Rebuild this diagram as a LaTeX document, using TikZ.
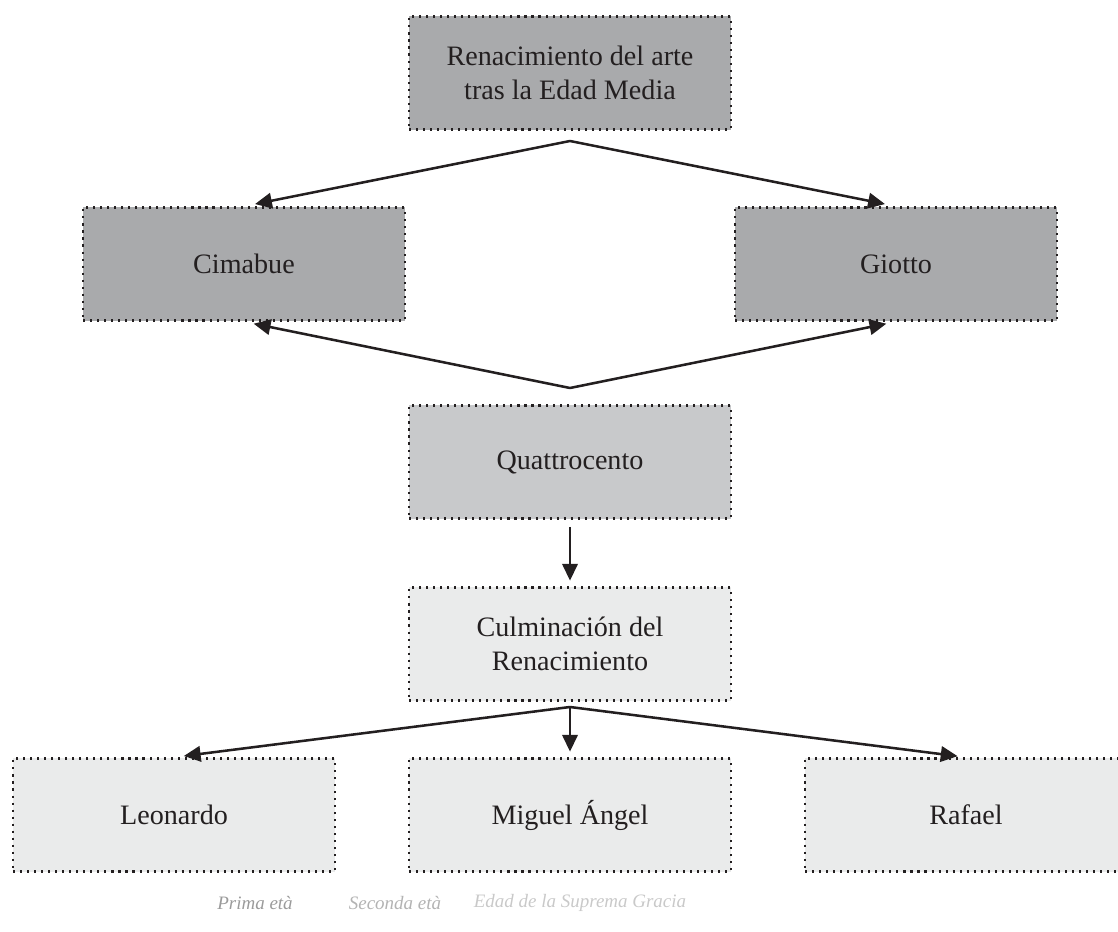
\documentclass[tikz,border=0pt]{standalone}
\usepackage{fontspec}
\setmainfont{Liberation Serif}
\usetikzlibrary{arrows.meta}
\definecolor{ink}{HTML}{231F20}
\definecolor{dark}{HTML}{A9AAAC}
\definecolor{mid}{HTML}{C8C9CB}
\definecolor{light}{HTML}{EAEBEB}
\definecolor{lgone}{HTML}{9B9B9B}
\definecolor{lgtwo}{HTML}{B3B3B3}
\definecolor{lgthree}{HTML}{C9C9C9}
\begin{document}
\begin{tikzpicture}[x=0.025cm,y=-0.025cm,
    box/.style={draw=ink,line width=1.6pt,dash pattern=on 1.5pt off 3.5pt,
      minimum width=8.05cm,minimum height=2.83cm,inner sep=0pt,align=center,
      text=ink,font=\fontsize{20}{24.5}\selectfont},
    legend/.style={font=\fontsize{13.5}{16}\selectfont\itshape},
    link/.style={->,draw=ink,line width=1.8pt},
    >={Triangle[length=12pt,width=11pt]}]
    \useasboundingbox (0,0) rectangle (1118,932);
    \clip (0,0) rectangle (1118,932);
    % boxes
    \node[box,fill=dark] (R) at (570,73) {Renacimiento del arte\\tras la Edad Media};
    \node[box,fill=dark] (C) at (244,264) {Cimabue};
    \node[box,fill=dark] (G) at (896,264) {Giotto};
    \node[box,fill=mid] (Q) at (570,462) {Quattrocento};
    \node[box,fill=light] (K) at (570,644) {Culminación del\\Renacimiento};
    \node[box,fill=light] (L) at (174,815) {Leonardo};
    \node[box,fill=light] (M) at (570,815) {Miguel Ángel};
    \node[box,fill=light] (F) at (966,815) {Rafael};
    % split points
    \coordinate (r) at (570,141);
    \coordinate (q) at (570,388);
    \coordinate (k) at (570,707);
    % arrows
    \draw[link,shorten >=8pt] (r) -- (C.north);
    \draw[link,shorten >=8pt] (r) -- (G.north);
    \draw[link,shorten >=7pt] (q) -- (C.south);
    \draw[link,shorten >=7pt] (q) -- (G.south);
    \draw[link,shorten <=5pt,shorten >=4pt] (Q) -- (K);
    \draw[link,shorten >=7pt] (k) -- (L.north);
    \draw[link,shorten >=4pt] (k) -- (M.north);
    \draw[link,shorten >=6pt] (k) -- (F.north);
    % legend
    \node[legend,text=lgone] (p1) at (255,903) {Prima età};
    \node[legend,text=lgtwo] (p2) at (395,903) {Seconda età};
    \node[legend,text=lgthree] (p3) at (580,903) {Edad de la Suprema Gracia};
\end{tikzpicture}
\end{document}
